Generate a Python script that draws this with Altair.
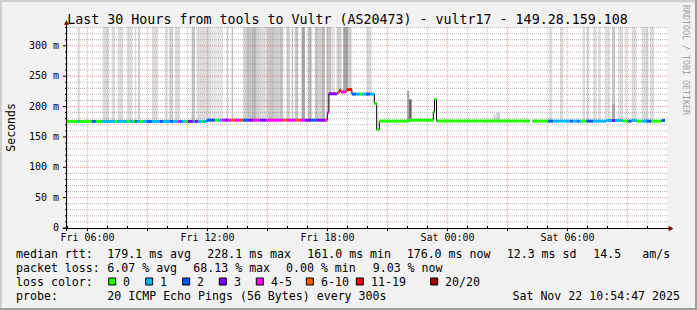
import altair as alt
import pandas as pd

# ---------------- data ----------------
LOSS_LABELS = ["0", "1", "2", "3", "4-5", "6-10", "11-19", "20/20"]
LOSS_COLORS = ["#26ff00", "#00b8ff", "#0059ff", "#7e00ff", "#ff00ff", "#ff5500", "#ff0000", "#a10000"]

# median RTT steps: start time (hours since Fri 00:00), median (ms), loss class index
seg_start = [
    4.97, 5.52, 5.62, 6.22, 6.42, 6.72, 7.37, 7.47, 7.97, 8.12, 8.27, 8.37, 8.47, 8.62, 8.77, 8.97,
    9.22, 9.62, 9.77, 10.12, 10.27, 10.52, 10.62, 10.72, 10.87, 11.02, 11.27, 11.37, 11.52, 11.67, 11.77,
    11.97, 12.37, 12.53, 12.70, 12.87, 13.03, 13.20, 13.37, 13.62, 13.78, 14.03, 14.28, 14.62, 14.95,
    15.78, 15.95, 16.45, 16.62, 16.87, 17.20, 17.45, 17.87,
    17.99, 18.07, 18.49, 18.59, 18.67, 18.92, 18.97, 19.22, 19.42, 19.62, 19.72, 19.92, 20.12, 20.34,
    20.46, 20.59, 22.09, 23.29, 23.35, 23.45, 28.12, 28.25, 29.03, 29.28, 30.12, 30.27, 30.47, 30.57,
    30.70, 30.95, 31.28, 31.95, 32.23, 32.37, 32.77, 33.02, 33.20, 33.45, 33.70, 33.95, 34.20, 34.70,
]
seg_rtt = (
    [175.5] * 31
    + [177.5] * 22
    + [190, 221, 223, 227, 224, 225, 228, 220.5, 220.5, 220.5, 220.5, 220.5, 220.5, 205,
       162, 176, 177.5, 191, 212, 176, None, 176, 176, 176, 176, 176, 176, 176,
       176, 176, 176, 177, 177, 177, 176, 176, 177, 176, 176, 176, 176, 177]
)
seg_loss = [
    0, 1, 0, 2, 0, 1, 0, 1, 0, 1, 0, 2, 1, 0, 1, 2, 1, 2, 1, 2, 1, 4, 2, 1, 0, 3, 1, 3, 1, 0, 1,
    2, 0, 1, 4, 3, 4, 5, 4, 5, 2, 3, 4, 3, 4, 5, 4, 5, 4, 3, 2, 3, 4,
    4, 3, 5, 6, 4, 5, 6, 2, 1, 0, 1, 2, 1, 0, 0, 0, 0, 0, 0, 0, 0, 0, 2, 1, 2, 1, 2, 1,
    0, 2, 1, 1, 3, 1, 0, 2, 1, 0, 1, 2, 0, 2,
]
series_end = 34.87

# smoke (spread of the 20 pings): start, end (hours), low, high (ms), density level
smoke_t0 = [5.505, 6.22, 6.755, 7.205, 7.505, 8.005, 8.37, 8.52, 9.22, 9.87, 10.085, 10.37, 11.205,
            11.455, 12.205, 12.455, 12.955, 13.205, 13.785, 13.955, 14.205, 14.455, 14.62, 15.035,
            15.37, 15.62, 15.955, 16.205, 16.37, 16.705, 17.035, 17.37, 17.535, 17.705, 17.955,
            18.07, 18.205, 18.455, 18.785, 19.035, 19.955, 21.985, 22.085, 24.955, 26.285, 26.455,
            28.37, 29.085, 29.62, 30.755, 30.955, 31.285, 31.535, 31.87, 32.02, 32.235, 32.235,
            32.535, 32.87, 33.205, 33.705, 34.12]
smoke_t1 = [5.62, 6.27, 7.085, 7.37, 7.785, 8.255, 8.435, 8.62, 9.535, 9.985, 10.285, 10.62, 11.37,
            12.205, 12.455, 12.785, 13.035, 13.285, 13.955, 14.205, 14.455, 14.62, 15.035, 15.37,
            15.62, 15.785, 16.12, 16.285, 16.535, 16.87, 17.205, 17.535, 17.705, 17.87, 18.07,
            18.205, 18.37, 18.705, 19.035, 19.205, 20.205, 22.085, 22.205, 25.035, 26.455, 26.62,
            28.47, 29.235, 29.785, 30.87, 31.085, 31.455, 31.655, 31.97, 32.12, 32.37, 32.37,
            32.785, 32.955, 33.455, 34.035, 34.32]
smoke_lo = [177] * 14 + [179] * 20 + [192, 222, 222, 225, 226, 229, 222, 178, 178, 177, 177, 177,
                                      177] + [177] * 15
smoke_hi = [331] * 41 + [226, 212, 181, 187, 190, 180] + [331] * 9 + [204] + [331] * 5
smoke_level = [2, 1, 2, 2, 2, 2, 2, 3, 2, 2, 3, 2, 4,
               2, 1, 1, 2, 4, 3, 4, 5, 3, 2, 4,
               3, 4, 3, 4, 4, 6, 5, 4, 3, 5, 4,
               4, 1, 3, 6, 3, 2, 6, 7, 1, 2, 3,
               1, 2, 2, 2, 2, 2, 2, 2, 2, 4, 6,
               2, 2, 2, 2, 2]
SMOKE_GRAYS = ["#e6e6e6", "#dcdcdc", "#d0d0d0", "#c4c4c4", "#b8b8b8", "#a4a4a4", "#5a5a5a"]

X_DOMAIN = [4.975, 34.975]
Y_DOMAIN = [0, 331]

# axis tick values and labels
y_ticks = [0, 50, 100, 150, 200, 250, 300]
y_tick_labels = ["0", "50 m", "100 m", "150 m", "200 m", "250 m", "300 m"]
x_label_hours = [6, 12, 18, 24, 30]
x_labels = ["Fri 06:00", "Fri 12:00", "Fri 18:00", "Sat 00:00", "Sat 06:00"]
y_title = "Seconds"

title_text = "Last 30 Hours from tools to Vultr (AS20473) - vultr17 - 149.28.159.108"
rtt_items = ["median rtt:", "179.1 ms avg", "228.1 ms max", "161.0 ms min", "176.0 ms now",
             "12.3 ms sd", "14.5", "am/s"]
loss_items = ["packet loss:", "6.07 % avg", "68.13 % max", "0.00 % min", "9.03 % now"]
probe_items = ["probe:", "20 ICMP Echo Pings (56 Bytes) every 300s"]
timestamp = "Sat Nov 22 10:54:47 2025"
watermark = "RRDTOOL / TOBI OETIKER"

# ---------------- layout (pixels) ----------------
W, H = 600, 201
PAD_L, PAD_T, PAD_R, PAD_B = 67, 27, 30, 82
MONO = "DejaVu Sans Mono"
RTT_X = [16, 107.3, 207.3, 307.3, 406.7, 506.7, 593.3, 642.3]
LOSS_X = [16, 107.3, 193.3, 286, 372.7]
PROBE_X = [16, 107.3]
BOX_X = [108.7, 145.7, 182.7, 219.3, 256.3, 306.3, 356.3, 430.7]
BOX_LABEL_X = [123, 160, 197, 234, 271, 321, 371, 445]
ROW_BASE = [258.3, 272.3, 286.3, 300.3]

xs = alt.Scale(domain=X_DOMAIN, nice=False, zero=False)
ys = alt.Scale(domain=Y_DOMAIN, nice=False, zero=False)
loss_scale = alt.Scale(domain=LOSS_LABELS, range=LOSS_COLORS)

# ---------------- tables ----------------
seg_end = seg_start[1:] + [series_end]
seg_df = pd.DataFrame({"t0": seg_start, "t1": seg_end, "rtt": seg_rtt,
                       "loss": [LOSS_LABELS[i] for i in seg_loss]}).dropna(subset=["rtt"])

line_rows = []
grp = 0
for a, b, r in zip(seg_start, seg_end, seg_rtt):
    if r is None:
        grp += 1
        continue
    line_rows.append({"t": a, "r": r, "g": grp, "i": len(line_rows)})
    line_rows.append({"t": b, "r": r, "g": grp, "i": len(line_rows)})
line_df = pd.DataFrame(line_rows)

smoke_df = pd.DataFrame({"t0": smoke_t0, "t1": smoke_t1, "lo": smoke_lo, "hi": smoke_hi,
                         "lvl": smoke_level})

hours_minor = [h for h in range(5, 35) if h % 3]
hours_major = list(range(6, 35, 3))
ms_minor = [v for v in range(10, 331, 10) if v % 50]
ms_major = list(range(50, 301, 50))

smoke = alt.Chart(smoke_df).mark_rect(clip=True).encode(
    x=alt.X("t0:Q", scale=xs, axis=None), x2="t1:Q",
    y=alt.Y("lo:Q", scale=ys, axis=None), y2="hi:Q",
    fill=alt.Fill("lvl:O", scale=alt.Scale(domain=list(range(1, 8)), range=SMOKE_GRAYS), legend=None),
)


def hgrid(vals, color, op):
    return alt.Chart(pd.DataFrame({"v": vals})).mark_rule(
        stroke=color, strokeOpacity=op, strokeDash=[1, 1], strokeWidth=1).encode(
        y=alt.Y("v:Q", scale=ys, axis=None))


def vgrid(vals, color, op):
    return alt.Chart(pd.DataFrame({"h": vals})).mark_rule(
        stroke=color, strokeOpacity=op, strokeDash=[1, 1], strokeWidth=1).encode(
        x=alt.X("h:Q", scale=xs, axis=None))


grid = [hgrid(ms_minor, "#8f8f8f", 0.65), vgrid(hours_minor, "#8f8f8f", 0.5),
        hgrid(ms_major, "#de5050", 0.6), vgrid(hours_major, "#de5050", 0.5)]

black_line = alt.Chart(line_df).mark_line(color="black", strokeWidth=1, clip=True).encode(
    x=alt.X("t:Q", scale=xs, axis=None), y=alt.Y("r:Q", scale=ys, axis=None),
    detail="g:N", order="i:Q")

colored = alt.Chart(seg_df).mark_rule(strokeWidth=3, strokeCap="butt", clip=True).encode(
    x=alt.X("t0:Q", scale=xs, axis=None), x2="t1:Q",
    y=alt.Y("rtt:Q", scale=ys, axis=None),
    color=alt.Color("loss:N", scale=loss_scale, legend=None))

# ---- axes: ticks and labels placed through the scales ----
ytick_df = pd.DataFrame({"v": y_ticks, "lab": y_tick_labels})
y_major_ticks = alt.Chart(ytick_df).mark_rule(color="black", strokeWidth=1).encode(
    y=alt.Y("v:Q", scale=ys, axis=None), x=alt.value(-4), x2=alt.value(0))
y_minor_ticks = alt.Chart(pd.DataFrame({"v": ms_minor})).mark_rule(color="black", strokeWidth=1).encode(
    y=alt.Y("v:Q", scale=ys, axis=None), x=alt.value(-2), x2=alt.value(0))
y_labels = alt.Chart(ytick_df).mark_text(font=MONO, fontSize=10, color="black", align="right",
                                         baseline="middle").encode(
    y=alt.Y("v:Q", scale=ys, axis=None), x=alt.value(-8), text="lab:N")

xlab_df = pd.DataFrame({"h": x_label_hours, "lab": x_labels})
x_major_ticks = alt.Chart(pd.DataFrame({"h": hours_major[:-1]})).mark_rule(
    color="black", strokeWidth=1).encode(
    x=alt.X("h:Q", scale=xs, axis=None), y=alt.value(H), y2=alt.value(H + 3))
x_minor_ticks = alt.Chart(pd.DataFrame({"h": hours_minor})).mark_rule(
    color="black", strokeWidth=1).encode(
    x=alt.X("h:Q", scale=xs, axis=None), y=alt.value(H - 2), y2=alt.value(H))
x_labels_layer = alt.Chart(xlab_df).mark_text(font=MONO, fontSize=10, color="black", align="center",
                                              baseline="alphabetic").encode(
    x=alt.X("h:Q", scale=xs, axis=None), y=alt.value(240.7 - PAD_T), text="lab:N")

# axis lines and arrows
axis_y = alt.Chart().mark_rule(color="black", strokeWidth=1).encode(
    x=alt.value(-0.5), y=alt.value(-4), y2=alt.value(H + 3))
axis_x = alt.Chart().mark_rule(color="black", strokeWidth=1).encode(
    x=alt.value(-4), x2=alt.value(W + 2), y=alt.value(H + 0.5))
arrow_up = alt.Chart().mark_point(shape="triangle-up", filled=True, color="#7f0000",
                                  size=28, opacity=1).encode(x=alt.value(-0.5), y=alt.value(-4.5))
arrow_right = alt.Chart().mark_point(shape="triangle-right", filled=True, color="#7f0000",
                                     size=28, opacity=1).encode(x=alt.value(W + 4), y=alt.value(H + 0.5))


def frame(x0, x1, y0, y1, c):
    return alt.Chart().mark_rect(color=c).encode(
        x=alt.value(x0), x2=alt.value(x1), y=alt.value(y0), y2=alt.value(y1))


FW, FH = W + PAD_L + PAD_R, H + PAD_T + PAD_B
frames = [frame(-PAD_L, FW - PAD_L, -PAD_T, -PAD_T + 2, "#cfcfcf"),
          frame(-PAD_L, -PAD_L + 2, -PAD_T, FH - PAD_T, "#cfcfcf"),
          frame(-PAD_L, FW - PAD_L, FH - PAD_T - 2, FH - PAD_T, "#9e9e9e"),
          frame(FW - PAD_L - 2, FW - PAD_L, -PAD_T, FH - PAD_T, "#9e9e9e")]


def txt(s, x, y, size=11.6, align="left", color="black", angle=0):
    kw = dict(text=s, font=MONO, fontSize=size, color=color, align=align, baseline="alphabetic")
    if angle:
        kw["angle"] = angle
    return alt.Chart().mark_text(**kw).encode(x=alt.value(x - PAD_L), y=alt.value(y - PAD_T))


texts = [txt(title_text, 347.5, 24, size=13.3, align="center"),
         txt(watermark, 683.3, 5, size=8.3, color="#a0a0a0", angle=90),
         txt(y_title, 15, 127.4, size=11.5, align="center", angle=270)]
for items, xs_, row in ((rtt_items, RTT_X, 0), (loss_items, LOSS_X, 1), (probe_items, PROBE_X, 3)):
    for s, x in zip(items, xs_):
        texts.append(txt(s, x, ROW_BASE[row]))
texts.append(txt("loss color:", 16, ROW_BASE[2]))
for lab, x in zip(LOSS_LABELS, BOX_LABEL_X):
    texts.append(txt(lab, x, ROW_BASE[2]))
texts.append(txt(timestamp, 680, ROW_BASE[3], align="right"))

boxes = []
for col, x in zip(LOSS_COLORS, BOX_X):
    boxes.append(alt.Chart().mark_rect(fill=col, stroke="black", strokeWidth=1).encode(
        x=alt.value(x - PAD_L), x2=alt.value(x - PAD_L + 7),
        y=alt.value(278 - PAD_T), y2=alt.value(285 - PAD_T)))

chart = alt.layer(
    smoke, *grid, black_line, colored,
    y_major_ticks, y_minor_ticks, y_labels, x_major_ticks, x_minor_ticks, x_labels_layer,
    axis_y, axis_x, arrow_up, arrow_right,
    *frames, *texts, *boxes,
).properties(
    width=W, height=H, autosize="none", background="#f2f2f2",
    padding={"left": PAD_L, "top": PAD_T, "right": PAD_R, "bottom": PAD_B},
).configure_view(stroke=None, fill="white")

chart.save("out.html", embed_options={"renderer": "svg", "actions": False})
